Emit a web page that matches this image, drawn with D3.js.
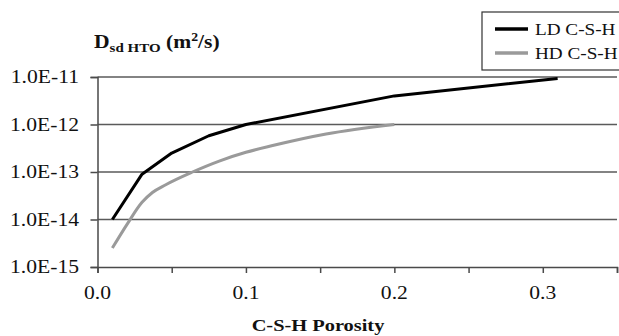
<!DOCTYPE html>
<html>
<head>
<meta charset="utf-8">
<script src="https://cdn.jsdelivr.net/npm/d3@7"></script>
<style>
  html, body { margin: 0; padding: 0; background: #fff; }
  svg { display: block; }
</style>
</head>
<body>
<svg id="chart" width="619" height="336"></svg>
<script>
// Porosity (x) and HTO diffusivity (m²/s) for the two C-S-H types
const ldPorosity = [0.01, 0.03, 0.05, 0.075, 0.10, 0.20, 0.31];
const ldDiffusivity = [1.0e-14, 9.0e-14, 2.5e-13, 5.8e-13, 1.0e-12, 4.0e-12, 9.3e-12];

const hdPorosity = [0.01, 0.02, 0.03, 0.037, 0.046, 0.064, 0.082, 0.10, 0.118, 0.154, 0.20];
const hdDiffusivity = [2.5e-15, 8.0e-15, 2.3e-14, 3.7e-14, 5.4e-14, 1.0e-13, 1.7e-13, 2.6e-13, 3.6e-13, 6.3e-13, 1.0e-12];

const seriesNames = ["LD C-S-H", "HD C-S-H"];
const seriesColors = ["#000000", "#9a9a9a"];

const xTicks = [0, 0.05, 0.10, 0.15, 0.20, 0.25, 0.30, 0.35];
const xTickLabels = ["0.0", "", "0.1", "", "0.2", "", "0.3", ""];
const yTicks = [1e-15, 1e-14, 1e-13, 1e-12, 1e-11];
const yTickLabels = ["1.0E-15", "1.0E-14", "1.0E-13", "1.0E-12", "1.0E-11"];

const svg = d3.select("#chart");
const plotLeft = 97.5, plotRight = 617, plotTop = 77, plotBottom = 267;
const stretch = 1.2; // wide serif lettering
const serif = "'Liberation Serif', 'Times New Roman', serif";

const x = d3.scaleLinear().domain([0, 0.35]).range([plotLeft, plotRight]);
const y = d3.scaleLog().domain([1e-15, 1e-11]).range([plotBottom, plotTop]);

// helper for horizontally widened text
function label(g, tx, ty, str, opts = {}) {
  const t = g.append("text")
    .attr("transform", `translate(${tx},${ty}) scale(${stretch},1)`)
    .attr("text-anchor", opts.anchor || "start")
    .attr("font-family", serif)
    .style("fill", "#111")
    .style("font-size", (opts.size || 18) + "px")
    .style("font-weight", opts.bold ? "bold" : "normal");
  if (str !== null) t.text(str);
  return t;
}

// horizontal gridlines
svg.append("g")
  .selectAll("line")
  .data(yTicks.slice(1))
  .join("line")
  .attr("x1", plotLeft).attr("x2", plotRight)
  .attr("y1", d => y(d)).attr("y2", d => y(d))
  .attr("stroke", "#5a5a5a").attr("stroke-width", 1.5);

// axes
const xAxis = svg.append("g")
  .attr("transform", `translate(0,${plotBottom})`)
  .call(d3.axisBottom(x).tickValues(xTicks).tickSize(6).tickFormat(""));
const yAxis = svg.append("g")
  .attr("transform", `translate(${plotLeft},0)`)
  .call(d3.axisLeft(y).tickValues(yTicks).tickSize(7).tickFormat(""));
[xAxis, yAxis].forEach(a => {
  a.select(".domain").attr("stroke", "#4a4a4a").attr("stroke-width", 1.5);
  a.selectAll(".tick line").attr("stroke", "#4a4a4a").attr("stroke-width", 1.5);
});

// tick labels
const labels = svg.append("g");
yTicks.forEach((v, i) => label(labels, 79, y(v) + 6, yTickLabels[i], { anchor: "end" }));
xTicks.forEach((v, i) => {
  if (xTickLabels[i]) label(labels, x(v), 299, xTickLabels[i], { anchor: "middle" });
});

// axis titles
label(labels, 318, 331, "C-S-H Porosity", { anchor: "middle", bold: true, size: 17 });
const yt = label(labels, 94, 48, null, { bold: true, size: 18 });
yt.append("tspan").text("D");
yt.append("tspan").attr("dy", 3.5).style("font-size", "12.5px").text("sd HTO");
yt.append("tspan").attr("dy", -3.5).text(" (m");
yt.append("tspan").attr("dy", -7).style("font-size", "11.5px").text("2");
yt.append("tspan").attr("dy", 7).text("/s)");

// series lines: LD as straight segments, HD smoothed
const ldLine = d3.line().x(d => x(d[0])).y(d => y(d[1]));
const hdLine = d3.line().x(d => x(d[0])).y(d => y(d[1])).curve(d3.curveMonotoneX);
const series = [
  { pts: d3.zip(ldPorosity, ldDiffusivity), gen: ldLine, color: seriesColors[0] },
  { pts: d3.zip(hdPorosity, hdDiffusivity), gen: hdLine, color: seriesColors[1] }
];
svg.append("g")
  .selectAll("path")
  .data([series[1], series[0]])
  .join("path")
  .attr("d", s => s.gen(s.pts))
  .attr("fill", "none")
  .attr("stroke", s => s.color)
  .attr("stroke-width", 3)
  .attr("stroke-linejoin", "round");

// legend
const lg = svg.append("g");
lg.append("rect")
  .attr("x", 482).attr("y", 12).attr("width", 160).attr("height", 58)
  .attr("fill", "#fff").attr("stroke", "#333").attr("stroke-width", 1.2);
seriesNames.forEach((name, i) => {
  const cy = 29 + i * 24;
  lg.append("line")
    .attr("x1", 495).attr("x2", 528)
    .attr("y1", cy).attr("y2", cy)
    .attr("stroke", seriesColors[i]).attr("stroke-width", 3.5);
  label(lg, 535, cy + 6, name, { size: 16 });
});
</script>
</body>
</html>
